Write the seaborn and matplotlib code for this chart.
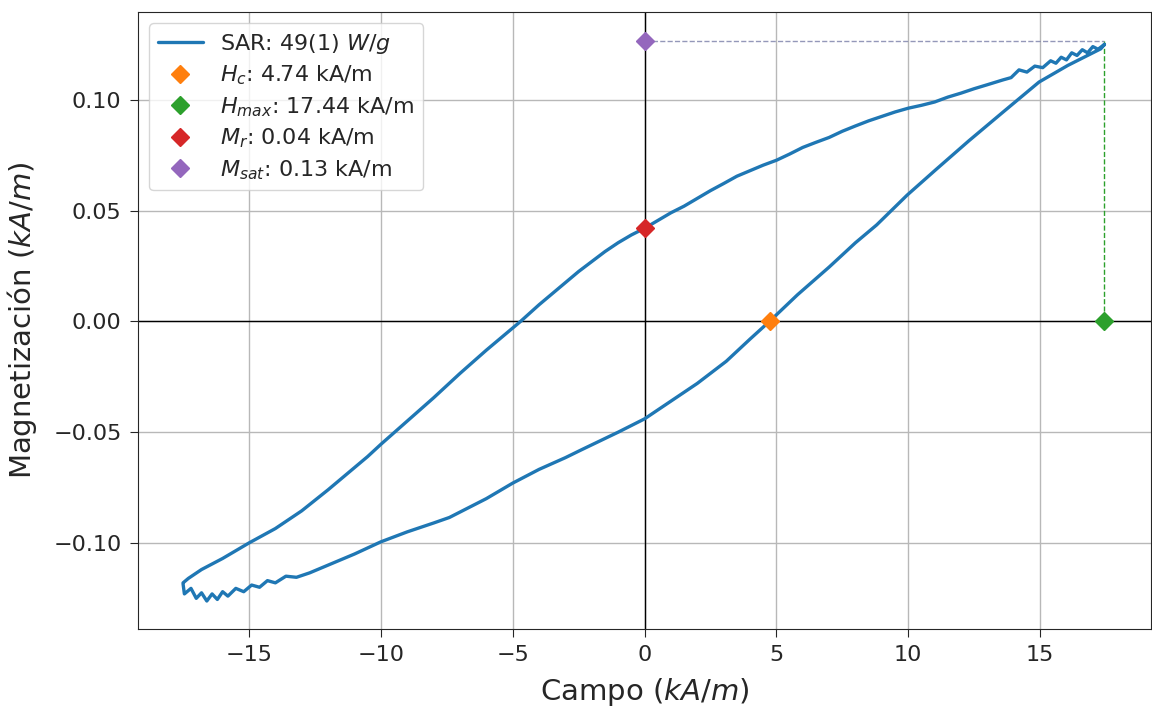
import pandas as pd
import matplotlib
matplotlib.use("Agg")
import matplotlib.pyplot as plt
import seaborn as sns

# hysteresis loop
# upper branch, field going down from +Hmax to -Hmax
campo_bajada = [17.44, 17.2, 17.0, 16.8, 16.6, 16.4, 16.2, 16.0, 15.8, 15.6, 15.4, 15.1, 14.8, 14.5,
                14.2, 13.9, 13.6, 13.0, 12.5, 12.0, 11.5, 11.0, 10.5, 10.0, 9.5, 9.0, 8.5, 8.0, 7.5,
                7.0, 6.5, 6.0, 5.5, 5.0, 4.5, 4.0, 3.5, 3.0, 2.5, 2.0, 1.5, 1.0, 0.5, 0.0, -0.5,
                -1.0, -1.5, -2.0, -2.5, -3.0, -3.5, -4.0, -4.7, -5.0, -5.5, -6.0, -7.0, -8.0, -9.0,
                -10.0, -10.5, -11.0, -12.0, -13.0, -14.0, -15.0, -16.0, -16.8, -17.3, -17.5]
mag_bajada = [0.1250, 0.1228, 0.1240, 0.1212, 0.1226, 0.1200, 0.1212, 0.1180, 0.1192, 0.1165, 0.1176,
              0.1145, 0.1152, 0.1125, 0.1135, 0.1100, 0.1090, 0.1068, 0.1050, 0.1030, 0.1012, 0.0990,
              0.0975, 0.0962, 0.0945, 0.0925, 0.0905, 0.0882, 0.0858, 0.0830, 0.0808, 0.0785, 0.0755,
              0.0727, 0.0705, 0.0680, 0.0655, 0.0622, 0.0590, 0.0555, 0.0520, 0.0490, 0.0455, 0.0420,
              0.0390, 0.0355, 0.0315, 0.0270, 0.0225, 0.0175, 0.0125, 0.0075, 0.0000, -0.0030,
              -0.0080, -0.0130, -0.0235, -0.0345, -0.0450, -0.0555, -0.0610, -0.0660, -0.0760,
              -0.0855, -0.0935, -0.1000, -0.1070, -0.1120, -0.1160, -0.1180]

# lower branch, field going up from -Hmax to +Hmax
campo_subida = [-17.5, -17.45, -17.2, -17.0, -16.8, -16.6, -16.4, -16.2, -16.0, -15.8, -15.5, -15.2,
                -14.9, -14.6, -14.3, -14.0, -13.6, -13.2, -12.7, -12.0, -11.0, -10.0, -9.0, -8.0,
                -7.4, -6.0, -5.0, -4.0, -3.0, -2.4, -1.0, 0.0, 1.0, 2.0, 3.1, 4.0, 4.74, 5.8, 7.0,
                8.0, 8.8, 9.96, 11.05, 12.3, 13.6, 14.96, 16.05, 16.8, 17.3, 17.44]
mag_subida = [-0.1185, -0.1230, -0.1205, -0.1250, -0.1225, -0.1262, -0.1230, -0.1255, -0.1220,
              -0.1240, -0.1205, -0.1220, -0.1190, -0.1200, -0.1170, -0.1180, -0.1150, -0.1155,
              -0.1135, -0.1100, -0.1050, -0.0995, -0.0950, -0.0910, -0.0885, -0.0800, -0.0730,
              -0.0668, -0.0615, -0.0580, -0.0500, -0.0440, -0.0360, -0.0280, -0.0180, -0.0080,
              0.0000, 0.0120, 0.0245, 0.0355, 0.0435, 0.0570, 0.0685, 0.0815, 0.0945, 0.1080,
              0.1155, 0.1200, 0.1230, 0.1250]

# characteristic points
Hc = 4.74
Hmax = 17.44
Mr = 0.042
Msat = 0.1264
sar_label = "SAR: 49(1) $W/g$"
etiquetas = ["$H_c$: 4.74 kA/m", "$H_{max}$: 17.44 kA/m", "$M_r$: 0.04 kA/m", "$M_{sat}$: 0.13 kA/m"]

# -------------------------------------------------------------------------------
sns.set_style("ticks")
plt.rcParams['font.family'] = ['DejaVu Sans']
plt.rcParams['mathtext.fontset'] = 'dejavusans'

ciclo = pd.DataFrame({
    "Campo": campo_bajada + campo_subida,
    "Magnetizacion": mag_bajada + mag_subida,
})

fig, ax = plt.subplots(figsize=(11.52, 7.08), dpi=100)
fig.subplots_adjust(left=0.12, right=0.999, top=0.983, bottom=0.112)

ax.grid(True, color="#b8b8b8", linewidth=1.0)
ax.axhline(0, color="black", linewidth=1.0, zorder=1)
ax.axvline(0, color="black", linewidth=1.0, zorder=1)

sns.lineplot(data=ciclo, x="Campo", y="Magnetizacion", sort=False, estimator=None,
             color="C0", linewidth=2.4, label=sar_label, ax=ax, zorder=3)

# dashed guides to Msat and Hmax
ax.plot([0, Hmax], [Msat, Msat], linestyle="--", color="#7a7fa8", alpha=0.8, linewidth=1.0, zorder=2)
ax.plot([Hmax, Hmax], [Msat, 0], linestyle="--", color="C2", linewidth=1.0, zorder=2)

puntos_x = [Hc, Hmax, 0, 0]
puntos_y = [0, 0, Mr, Msat]
colores = ["C1", "C2", "C3", "C4"]
for px, py, c, lab in zip(puntos_x, puntos_y, colores, etiquetas):
    ax.plot(px, py, marker="D", markersize=9, color=c, linestyle="none", label=lab, zorder=4)

ax.set_xlim(-19.2, 19.2)
ax.set_ylim(-0.1387, 0.1396)
ax.set_xlabel("Campo $(kA/m)$", fontsize=21, labelpad=8)
ax.set_ylabel("Magnetización $(kA/m)$", fontsize=21, labelpad=10)
ax.tick_params(labelsize=16, length=6, pad=6)
ax.legend(loc="upper left", fontsize=16, handlelength=2.0, labelspacing=0.35)

plt.savefig("out.png")
